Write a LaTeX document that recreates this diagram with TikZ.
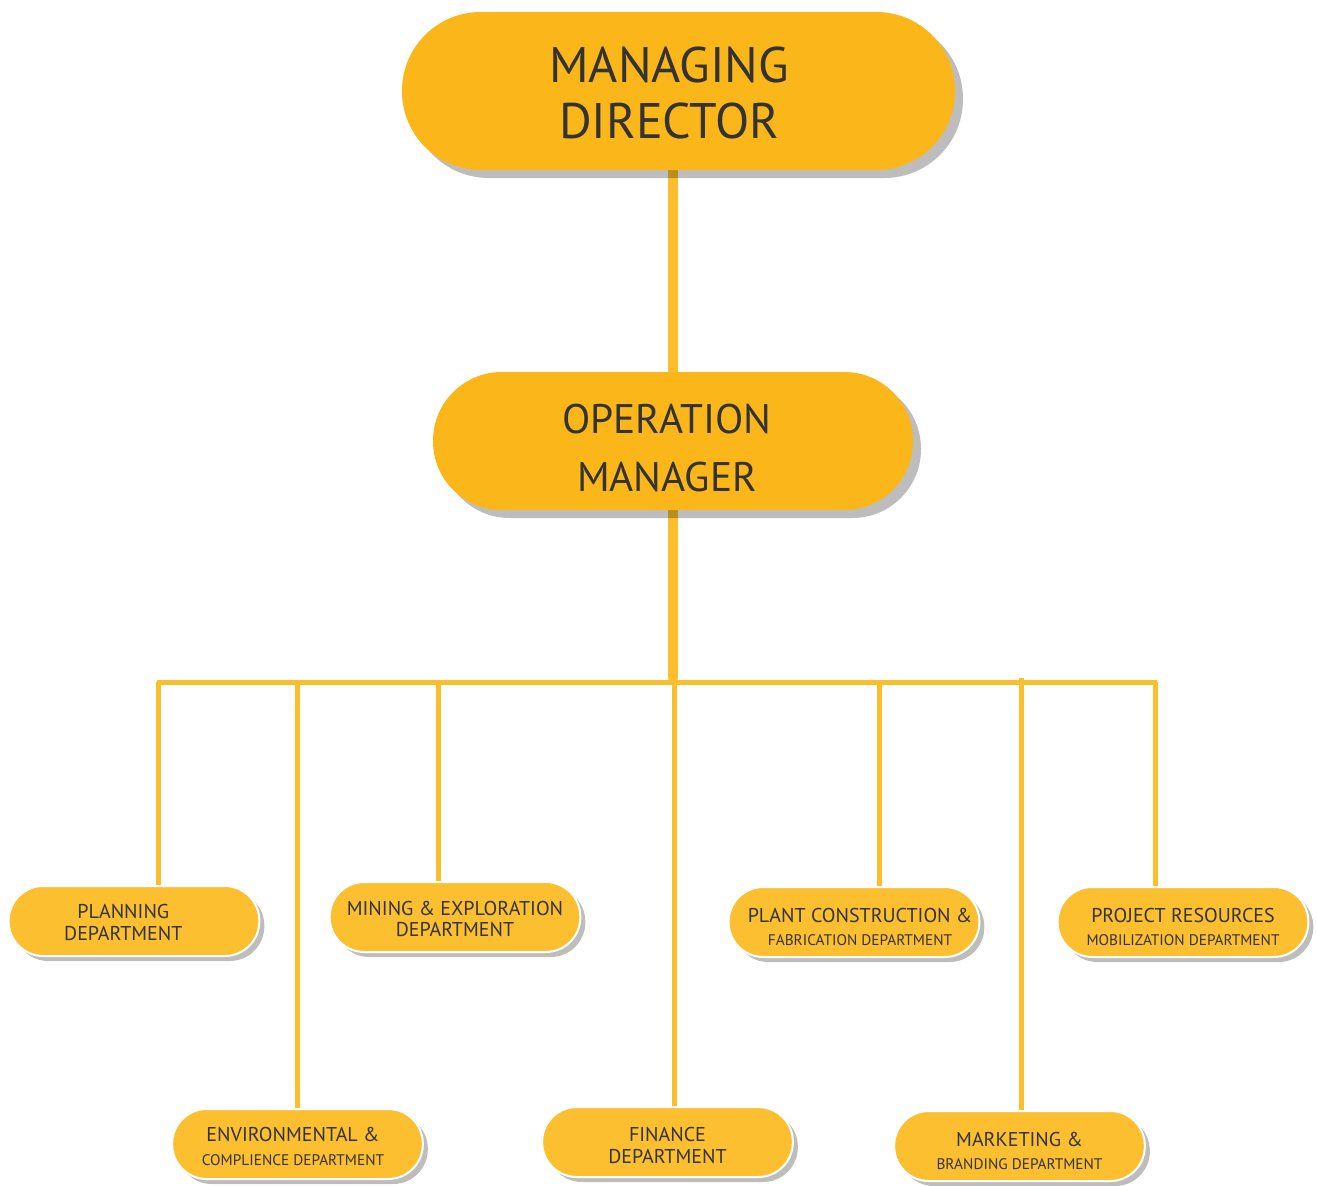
\documentclass[tikz,border=0pt]{standalone}
\usepackage{fontspec}
\setmainfont{PT Sans}
\usetikzlibrary{shadows}
\definecolor{boxA}{HTML}{FBB61A}
\definecolor{boxB}{HTML}{FCBF30}
\definecolor{linec}{HTML}{FBBF2E}
\definecolor{txt}{HTML}{333333}
\pgfdeclarelayer{bg}
\pgfsetlayers{bg,main}
\begin{document}
\begin{tikzpicture}[x=0.75pt,y=-0.75pt,
  bigbox/.style={fill=boxA, inner sep=0pt,
    drop shadow={shadow xshift=6pt, shadow yshift=-6pt, fill=black, opacity=0.26}},
  smallbox/.style={fill=boxB, draw=white, line width=1.5pt, inner sep=0pt,
    minimum width=188pt, minimum height=52.5pt, rounded corners=26pt,
    drop shadow={shadow xshift=3.75pt, shadow yshift=-3.75pt, fill=black, opacity=0.26, draw=none}},
  label text/.style={text=txt, align=center, inner sep=0pt},
  small text/.style={label text, font=\fontsize{15}{17.5}\selectfont},
  even text/.style={label text, font=\fontsize{15}{16}\selectfont},
  thick conn/.style={draw=linec, line width=7.5pt, line cap=round},
  thin conn/.style={draw=linec, line width=3.75pt}
]
\useasboundingbox (0,0) rectangle (1317,1185);
\newcommand{\subline}[1]{{\fontsize{11.5}{13}\selectfont #1}}

% boxes
\node[bigbox, minimum width=414.75pt, minimum height=118.5pt, rounded corners=59pt] (md) at (678.5,91) {};
\node[bigbox, minimum width=360pt, minimum height=103.5pt, rounded corners=51.5pt] (om) at (673,441) {};
\node[smallbox] (plan) at (134,921) {};
\node[smallbox] (mine) at (455,917) {};
\node[smallbox] (plant) at (854,922) {};
\node[smallbox] (proj) at (1183,922) {};
\node[smallbox] (env) at (297.5,1144) {};
\node[smallbox] (fin) at (667.5,1142) {};
\node[smallbox] (mkt) at (1019.5,1146) {};

% texts
\node[label text, font=\fontsize{37.5}{42}\selectfont] (md-t) at ([xshift=-7pt,yshift=-1.5pt]md.center) {MANAGING\\DIRECTOR};
\node[label text, font=\fontsize{31}{43.5}\selectfont] (om-t) at ([xshift=-4.5pt,yshift=-5.25pt]om.center) {OPERATION\\MANAGER};
\node[even text] (plan-t) at ([xshift=-8pt,yshift=-1.1pt]plan.center) {PLANNING\\DEPARTMENT};
\node[even text] (mine-t) at ([yshift=-1.5pt]mine.center) {MINING \& EXPLORATION\\DEPARTMENT};
\node[small text] (plant-t) at ([xshift=4.5pt,yshift=-3.75pt]plant.center) {PLANT CONSTRUCTION \&\\\subline{FABRICATION DEPARTMENT}};
\node[small text] (proj-t) at ([yshift=-3.75pt]proj.center) {PROJECT RESOURCES\\\subline{MOBILIZATION DEPARTMENT}};
\node[small text] (env-t) at ([xshift=-3.4pt,yshift=-1.9pt]env.center) {ENVIRONMENTAL \&\\\subline{COMPLIENCE DEPARTMENT}};
\node[even text] (fin-t) at ([yshift=-2.6pt]fin.center) {FINANCE\\DEPARTMENT};
\node[small text] (mkt-t) at ([yshift=-3.75pt]mkt.center) {MARKETING \&\\\subline{BRANDING DEPARTMENT}};

% bus coordinates
\coordinate (busL) at (157,682);
\coordinate (busR) at (1157,682);
\coordinate (busC) at (673,678);
\coordinate (d1) at (158,682);
\coordinate (d2) at (297,682);
\coordinate (d3) at (438,682);
\coordinate (d4) at (674,682);
\coordinate (d5) at (879,682);
\coordinate (d6) at (1021,678);
\coordinate (d7) at (1155,682);

\begin{pgfonlayer}{bg}
\draw[thick conn] (md.south -| om.north) -- (om.north);
\draw[thick conn] (om.south) -- (busC);
\draw[thin conn] (busL) -- (busR);
\draw[thin conn] (d1) -- (d1 |- plan.north);
\draw[thin conn] (d2) -- (d2 |- env.north);
\draw[thin conn] (d3) -- (d3 |- mine.north);
\draw[thin conn] (d4) -- (d4 |- fin.north);
\draw[thin conn] (d5) -- (d5 |- plant.north);
\draw[thin conn] (d6) -- (d6 |- mkt.north);
\draw[thin conn] (d7) -- (d7 |- proj.north);
\end{pgfonlayer}
\end{tikzpicture}
\end{document}
